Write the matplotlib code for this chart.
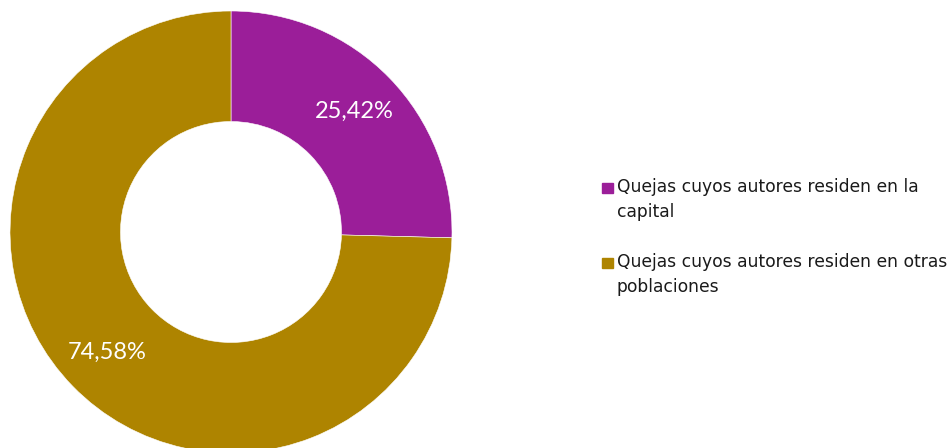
import matplotlib.pyplot as plt
from matplotlib.patches import Rectangle

plt.rcParams["font.family"] = ["DejaVu Sans"]

# share of complaints by where the author lives
labels = ["Quejas cuyos autores residen en la\ncapital",
          "Quejas cuyos autores residen en otras\npoblaciones"]
values = [25.42, 74.58]
colors = ["#9B1E99", "#AE8400"]

W, H = 952, 448
fig = plt.figure(figsize=(W / 100, H / 100), dpi=100)

# donut centred at (231, 232) px, radius 221 px
cx, cy, r = 231, 232, 221
ax = fig.add_axes([(cx - r) / W, (H - cy - r) / H, 2 * r / W, 2 * r / H])
wedges, texts, autotexts = ax.pie(
    values, colors=colors, startangle=90, counterclock=False,
    radius=1, autopct=lambda p: f"{p:.2f}%".replace(".", ","),
    pctdistance=0.78,
    wedgeprops=dict(width=0.5, edgecolor="white", linewidth=0.4),
    textprops=dict(color="white", fontsize=17, fontfamily="Lato"))
ax.set_xlim(-1, 1)
ax.set_ylim(-1, 1)
ax.set_aspect("equal")
ax.axis("off")

# legend drawn by hand so the square sits next to the first line
for i, (lab, col) in enumerate(zip(labels, colors)):
    top = 183 + i * 75
    fig.patches.append(Rectangle((602 / W, 1 - (top + 10) / H), 11 / W, 10 / H,
                                 transform=fig.transFigure, color=col))
    fig.text(617 / W, 1 - (top - 5) / H, lab, ha="left", va="top",
             fontsize=12.3, linespacing=1.5, color="#1a1a1a",
             fontfamily="DejaVu Sans")

fig.savefig("out.png", dpi=100)
